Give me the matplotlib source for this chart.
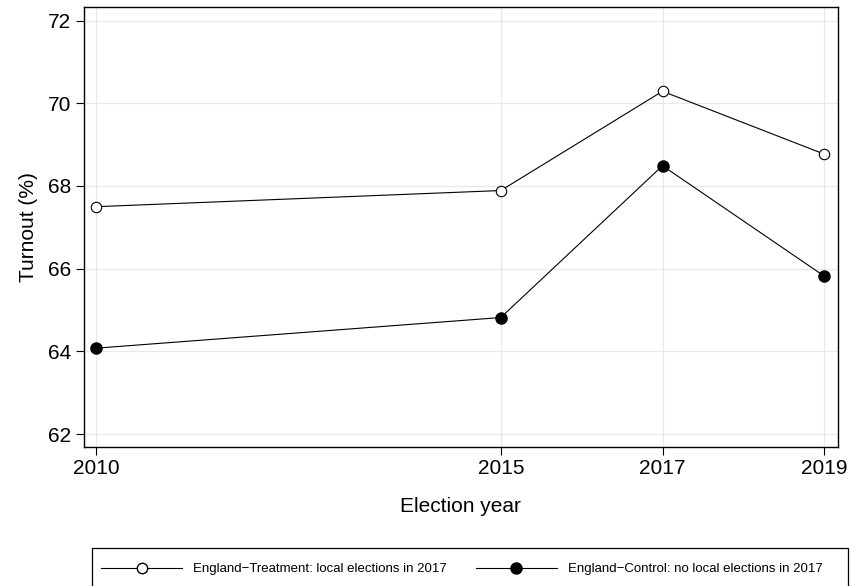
import matplotlib.pyplot as plt
from matplotlib.lines import Line2D
from matplotlib.patches import Rectangle

# Turnout by election year, England
years = [2010, 2015, 2017, 2019]
treatment = [67.50, 67.89, 70.29, 68.77]
control = [64.08, 64.82, 68.49, 65.82]

labels = ['England\u2212Treatment: local elections in 2017',
          'England\u2212Control: no local elections in 2017']

plt.rcParams['font.family'] = ['Liberation Sans', 'DejaVu Sans']

W, H = 851, 586
fig = plt.figure(figsize=(W / 100, H / 100), dpi=100)
ax = fig.add_axes([83.5 / W, 1 - 447 / H, (838 - 83.5) / W, (447 - 7.3) / H])

ax.plot(years, treatment, color='black', lw=0.8, marker='o', ms=7.5,
        mfc='white', mec='black', mew=0.8)
ax.plot(years, control, color='black', lw=0.8, marker='o', ms=8,
        mfc='black', mec='black')

ax.set_xlim(2009.84, 2019.17)
ax.set_ylim(61.69, 72.32)
ax.set_xticks(years)
ax.set_yticks([62, 64, 66, 68, 70, 72])
ax.grid(True, color='#e8e8e8', lw=0.9)
ax.set_axisbelow(True)
for s in ax.spines.values():
    s.set_linewidth(1.0)
ax.tick_params(axis='both', direction='out', length=5.5, width=0.8,
               labelsize=15, colors='black', pad=3.5)
ax.set_xlabel('Election year', fontsize=15, labelpad=13)
ax.set_ylabel('Turnout (%)', fontsize=15, labelpad=7)

# legend below the plot, frame drawn separately
handles = [
    Line2D([], [], color='black', lw=0.8, marker='o', ms=7.5, mfc='white', mec='black'),
    Line2D([], [], color='black', lw=0.8, marker='o', ms=8, mfc='black', mec='black'),
]
fs = 9.5
px = fs * 100 / 72
leg = fig.legend(handles, labels, loc='center left', ncol=2, frameon=False,
                 bbox_to_anchor=(101 / W, 1 - 569 / H), fontsize=fs,
                 handlelength=81 / px, handletextpad=0.85, columnspacing=2.2,
                 borderpad=0, borderaxespad=0)
fig.patches.append(Rectangle((92 / W, 1 - 620 / H), (848 - 92) / W, 72 / H,
                             transform=fig.transFigure, fill=False,
                             edgecolor='black', lw=0.9))

fig.savefig('out.png', dpi=100)
